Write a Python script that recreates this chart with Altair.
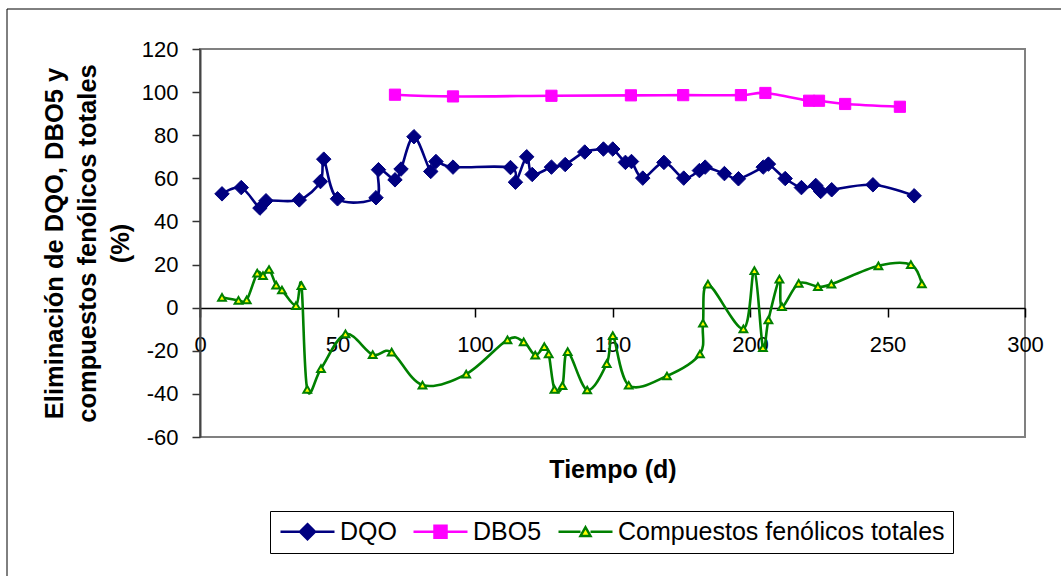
import altair as alt
import pandas as pd

# ---------------- data ----------------
SERIES = ["DQO", "DBO5", "Compuestos fenólicos totales"]

dqo_t = [8.0, 15.0, 21.8, 24.0, 36.1, 43.8, 45.0, 50.0, 64.0, 64.9, 70.9, 73.1, 77.8,
         83.9, 85.8, 92.0, 112.9, 114.7, 118.8, 120.8, 127.8, 132.8, 139.9, 146.7,
         150.1, 154.7, 156.9, 161.0, 168.7, 175.9, 181.6, 183.7, 190.7, 195.8, 204.8,
         206.7, 212.8, 218.7, 223.9, 225.7, 229.7, 244.7, 259.7]
dqo_v = [52.8, 55.7, 46.2, 49.6, 50.0, 58.5, 68.9, 50.5, 51.0, 64.0, 59.3, 64.3, 79.3,
         63.2, 67.8, 65.2, 65.0, 58.2, 70.0, 61.8, 65.2, 66.4, 72.2, 73.6,
         73.6, 67.4, 67.8, 60.1, 67.4, 60.1, 63.6, 65.2, 62.2, 59.8, 65.2,
         66.6, 59.9, 55.7, 56.7, 53.9, 54.7, 57.0, 51.9]

dbo_t = [70.9, 92.0, 127.8, 156.7, 175.7, 196.7, 205.6, 221.5, 225.1, 234.6, 254.5]
dbo_v = [98.8, 98.0, 98.3, 98.5, 98.6, 98.6, 99.6, 96.0, 96.0, 94.5, 93.2]

fen_t = [8.0, 14.0, 17.0, 20.8, 22.9, 25.1, 27.7, 29.8, 34.9, 36.9, 39.0, 44.0, 52.9,
         62.8, 69.7, 80.9, 96.8, 111.8, 117.7, 121.9, 125.2, 126.8, 128.9, 131.8,
         133.7, 140.8, 147.9, 150.1, 155.9, 169.8, 181.8, 182.9, 184.7, 197.6, 201.6,
         204.7, 206.7, 210.7, 211.6, 217.7, 224.7, 229.6, 246.7, 258.5, 262.5]
fen_v = [4.8, 3.4, 3.6, 16.0, 14.9, 17.7, 10.5, 8.2, 0.9, 10.2, -37.9, -28.3, -12.2,
         -21.8, -20.6, -35.9, -30.8, -14.9, -15.9, -22.0, -18.1, -21.4, -37.9, -36.2,
         -20.4, -38.2, -26.0, -13.0, -36.0, -31.7, -21.5, -7.2, 10.9, -9.8, 17.2,
         -18.6, -5.7, 13.2, 0.5, 11.3, 9.8, 10.9, 19.4, 20.0, 11.0]

x_ticks = [0, 50, 100, 150, 200, 250, 300]
y_ticks = [-60, -40, -20, 0, 20, 40, 60, 80, 100, 120]

NAVY = "#000080"
MAGENTA = "#FF00FF"
GREEN = "#008000"
YELLOW = "#FFFF00"
FONT = "Liberation Sans"


def frame(name, t, v):
    return pd.DataFrame({"t": t, "v": v, "serie": name, "i": list(range(len(t)))})


df_dqo = frame(SERIES[0], dqo_t, dqo_v)
df_dbo = frame(SERIES[1], dbo_t, dbo_v)
df_fen = frame(SERIES[2], fen_t, fen_v)
df_all = pd.concat([df_dqo, df_dbo, df_fen], ignore_index=True)

X = alt.X(
    "t:Q",
    scale=alt.Scale(domain=[0, 300], nice=False, zero=False),
    axis=alt.Axis(
        values=x_ticks, title="Tiempo (d)", offset=-129, grid=False,
        labelExpr="datum.value + ''",
        domainColor="black", domainWidth=1.5, tickColor="black", tickSize=9,
        tickWidth=1.5, labelPadding=17, labelFontSize=22, labelColor="black",
        labelFont=FONT, labelFlush=False, labelOverlap=False,
        titleFont=FONT, titleFontSize=25, titleFontWeight="bold", titleColor="black",
        titleBaseline="alphabetic", titleY=169,
    ),
)
Y = alt.Y(
    "v:Q",
    scale=alt.Scale(domain=[-60, 120], nice=False, zero=False),
    axis=alt.Axis(
        values=y_ticks, grid=False,
        labelExpr="datum.value + ''",
        title=["Eliminación de DQO, DBO5 y", "compuestos fenólicos totales", "(%)"],
        domainColor="#444444", domainWidth=2, tickColor="#333333", tickSize=8,
        tickWidth=1.5, labelPadding=14, labelFontSize=22, labelColor="black",
        labelFont=FONT, labelFlush=False, labelOverlap=False,
        titleFont=FONT, titleFontSize=25.5, titleFontWeight="bold", titleColor="black",
        titleLineHeight=33, titleBaseline="alphabetic", titleX=-138, titleY=194,
    ),
)
ORDER = alt.Order("i:Q")

line_dqo = alt.Chart(df_dqo).mark_line(color=NAVY, strokeWidth=2.6, interpolate="cardinal").encode(x=X, y=Y, order=ORDER)
pts_dqo = alt.Chart(df_dqo).mark_point(shape="diamond", filled=True, fill=NAVY, stroke=NAVY, strokeWidth=1, size=210, opacity=1).encode(x=X, y=Y)

line_dbo = alt.Chart(df_dbo).mark_line(color=MAGENTA, strokeWidth=2.6, interpolate="cardinal").encode(x=X, y=Y, order=ORDER)
pts_dbo = alt.Chart(df_dbo).mark_point(shape="square", filled=True, fill=MAGENTA, stroke=MAGENTA, strokeWidth=1, size=125, opacity=1).encode(x=X, y=Y)

line_fen = alt.Chart(df_fen).mark_line(color=GREEN, strokeWidth=2.6, interpolate="cardinal").encode(x=X, y=Y, order=ORDER)
pts_fen = alt.Chart(df_fen).mark_point(shape="triangle-up", filled=True, fill=YELLOW, stroke=GREEN, strokeWidth=2, size=60, opacity=1).encode(x=X, y=Y)

# legend symbols: line segment + marker as custom paths (1 unit = 10 px, box = [-1, 1])
P_DQO = "M-1,0H0.95M2.45,0H4.4M1.7,-0.75L2.45,0L1.7,0.75L0.95,0Z"
P_DBO = "M-1,0H1.1M2.3,0H4.4M1.1,-0.6H2.3V0.6H1.1Z"
P_FEN = "M-1,0H1.2M2.2,0H4.4M1.7,-0.45L2.2,0.42L1.2,0.42Z"

LEG = alt.Legend(
    title=None, orient="none", legendX=70, legendY=462, direction="horizontal",
    columns=3, symbolSize=400, symbolStrokeWidth=2.5, symbolOpacity=1,
    labelFont=FONT, labelFontSize=25, labelColor="black", labelOffset=37,
    labelLimit=500, columnPadding=11, padding=8, strokeColor="black",
    fillColor="white", cornerRadius=0,
)
legend_layer = alt.Chart(df_all).mark_point(opacity=0, filled=True, strokeWidth=2.5).encode(
    x=X, y=Y,
    shape=alt.Shape("serie:N", scale=alt.Scale(domain=SERIES, range=[P_DQO, P_DBO, P_FEN]), legend=LEG),
    fill=alt.Fill("serie:N", scale=alt.Scale(domain=SERIES, range=[NAVY, MAGENTA, YELLOW]), legend=LEG),
    stroke=alt.Stroke("serie:N", scale=alt.Scale(domain=SERIES, range=[NAVY, MAGENTA, GREEN]), legend=LEG),
)

one = pd.DataFrame({"a": [0]})
border_left = alt.Chart(one).mark_rule(color="black", strokeWidth=1).encode(
    x=alt.value(-193), y=alt.value(-40), y2=alt.value(527))
border_top = alt.Chart(one).mark_rule(color="black", strokeWidth=1).encode(
    x=alt.value(-193), x2=alt.value(861), y=alt.value(-40))

chart = alt.layer(
    border_left, border_top,
    line_dqo, line_dbo, line_fen,
    pts_dqo, pts_dbo, pts_fen,
    legend_layer,
).properties(
    width=825, height=388,
    padding={"left": 200, "top": 49, "right": 36, "bottom": 139},
    autosize=alt.AutoSizeParams(type="none"),
    background="white",
).configure_view(
    stroke="#808080", strokeWidth=2,
)

chart.save("out.html", embed_options={"renderer": "svg", "actions": False})
